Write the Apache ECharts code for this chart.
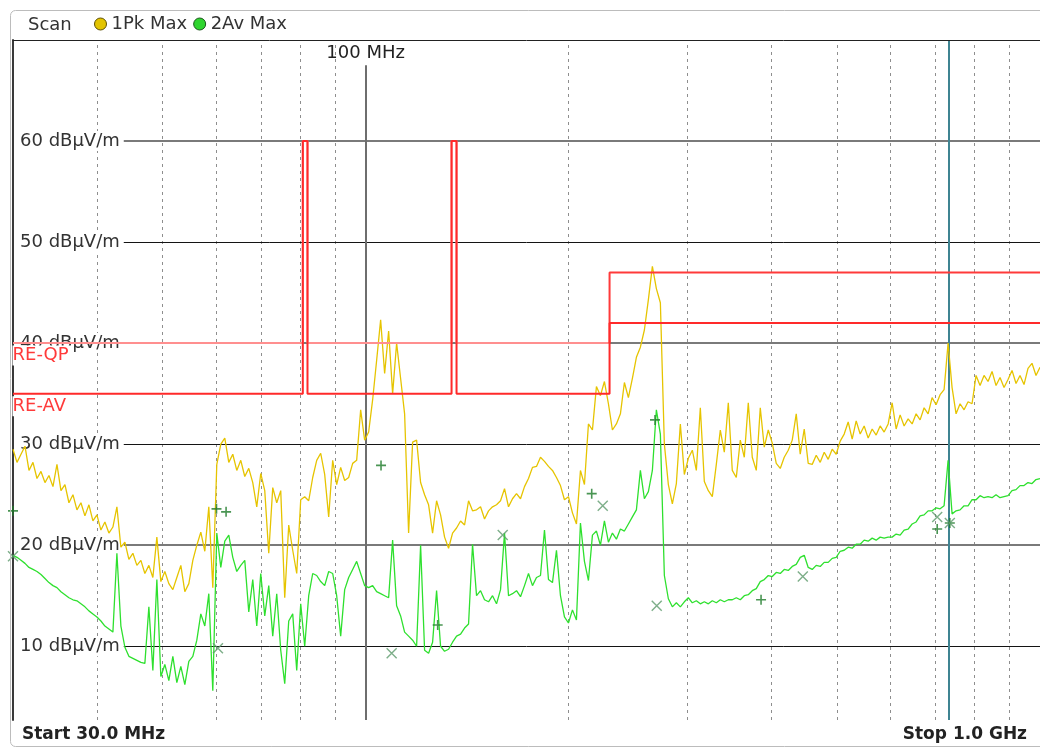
<!DOCTYPE html>
<html>
<head>
<meta charset="utf-8">
<title>Scan 30 MHz – 1 GHz</title>
<script src="https://cdn.jsdelivr.net/npm/echarts@6/dist/echarts.min.js"></script>
<style>
  html, body { margin: 0; padding: 0; background: #fff; }
  #chart { width: 1040px; height: 749px; }
</style>
</head>
<body>
<div id="chart"></div>
<script>
// Sweep range (MHz) and level range (dBµV/m)
const startMHz = 30;
const stopMHz = 1000;
const yMaxDb = 70;
const yMinDb = 2.7;

// Grid ticks
const gridDb = [10, 20, 30, 40, 50, 60];
const gridDashMHz = [40, 50, 60, 70, 80, 90, 200, 300, 400, 500, 600, 700, 800, 900];
const labelledMHz = 100;
const labelTopDb = 67.5;
const markerMHz = 733;

// Trace 1: peak detector, max hold (dBµV/m), one value per sweep point
const pkMax = [
  29.5, 28.2, 29.0, 29.8, 27.4, 28.2, 26.6, 27.3, 26.2, 26.9,
  25.8, 28.0, 25.4, 26.0, 24.2, 25.0, 23.5, 24.2, 22.9, 24.0,
  22.4, 23.0, 21.5, 22.3, 21.2, 21.8, 23.8, 19.8, 20.3, 18.6,
  19.2, 18.0, 18.5, 17.2, 18.0, 16.8, 20.8, 16.4, 17.4, 16.2,
  15.6, 16.8, 18.0, 15.4, 16.2, 18.5, 20.0, 21.3, 19.4, 23.8,
  15.8, 28.0, 30.0, 30.6, 28.2, 29.0, 27.4, 28.4, 26.8, 27.6,
  26.2, 23.8, 27.1, 25.4, 19.2, 25.7, 24.2, 25.4, 14.8, 22.0,
  19.5, 17.2, 24.5, 24.8, 24.4, 26.7, 28.4, 29.1, 27.0, 22.8,
  28.4, 26.0, 27.7, 26.4, 26.7, 28.1, 28.4, 33.4, 30.4, 31.2,
  34.4, 38.3, 42.3, 37.0, 41.2, 35.0, 40.0, 36.5, 33.0, 21.2,
  30.2, 30.4, 26.2, 25.0, 24.0, 21.2, 24.4, 23.0, 20.8, 19.7,
  21.2, 21.7, 22.4, 22.0, 24.4, 23.4, 23.5, 23.8, 22.6, 23.4,
  23.8, 24.0, 24.4, 25.6, 23.8, 24.6, 25.1, 24.6, 25.8, 26.6,
  27.7, 27.8, 28.7, 28.3, 27.8, 27.4, 26.7, 25.9, 24.5, 24.8,
  23.2, 22.1, 27.4, 26.0, 32.0, 31.4, 35.7, 34.8, 36.2, 34.0,
  31.4, 32.0, 33.0, 36.1, 34.6, 36.5, 38.6, 39.6, 41.3, 44.3,
  47.6, 45.4, 44.0, 30.0, 26.0, 24.1, 26.1, 32.0, 27.0, 28.6,
  29.4, 27.4, 33.6, 26.3, 25.4, 24.8, 28.0, 31.4, 29.2, 34.1,
  27.4, 26.7, 30.4, 28.7, 34.1, 28.7, 27.4, 33.6, 29.7, 31.4,
  30.1, 28.1, 27.6, 28.7, 29.4, 30.4, 33.0, 29.0, 31.5, 28.1,
  28.0, 28.9, 28.2, 29.2, 28.5, 29.5, 29.0, 30.3, 31.0, 32.2,
  30.5, 32.3, 31.0, 31.8, 30.6, 31.5, 30.9, 31.8, 31.2, 32.0,
  34.1, 31.5, 32.9, 31.8, 32.5, 32.0, 33.0, 32.4, 33.6, 33.0,
  34.6, 33.9, 34.9, 35.4, 40.0, 35.6, 33.0, 34.0, 33.4, 34.2,
  34.0, 36.8, 35.8, 36.8, 36.2, 37.2, 35.8, 36.6, 35.6, 36.4,
  37.3, 36.0, 36.8, 35.9, 37.5, 38.0, 36.8, 37.6
];

// Trace 2: average detector, max hold (dBµV/m)
const avMax = [
  19.0, 18.8, 18.5, 18.2, 17.8, 17.6, 17.4, 17.1, 16.7, 16.3,
  16.0, 15.8, 15.4, 15.1, 14.8, 14.6, 14.5, 14.2, 13.9, 13.5,
  13.2, 12.9, 12.5, 12.0, 11.7, 11.4, 19.2, 12.0, 9.9, 9.0,
  8.8, 8.6, 8.4, 8.3, 13.9, 7.6, 16.6, 7.0, 8.2, 6.6,
  9.0, 6.4, 8.0, 6.2, 8.5, 9.0, 10.6, 13.2, 12.0, 15.2,
  5.6, 21.2, 17.8, 20.4, 21.0, 18.8, 17.4, 18.0, 18.5, 13.4,
  16.6, 12.0, 17.2, 13.0, 16.0, 11.0, 15.2, 9.6, 6.3, 12.5,
  13.2, 7.6, 14.2, 10.0, 15.0, 17.2, 17.0, 16.4, 16.0, 17.4,
  17.2, 15.0, 11.0, 15.6, 16.8, 17.6, 18.4, 17.2, 16.0, 15.8,
  16.0, 15.4, 15.2, 15.0, 14.8, 20.5, 14.0, 13.0, 11.4, 11.0,
  10.6, 10.0, 20.0, 9.6, 9.3, 10.4, 15.5, 10.0, 9.5, 9.7,
  10.4, 11.0, 11.2, 11.8, 12.2, 20.1, 15.0, 15.5, 14.6, 14.4,
  15.0, 14.2, 15.6, 21.2, 15.0, 15.2, 15.5, 14.9, 16.0, 17.2,
  16.0, 16.8, 17.0, 21.5, 16.6, 16.3, 19.5, 15.0, 12.9, 12.3,
  13.6, 12.6, 22.2, 18.4, 16.5, 21.0, 21.4, 20.0, 22.4, 20.3,
  21.2, 20.6, 21.6, 21.4, 22.1, 22.8, 23.5, 27.4, 24.6, 25.3,
  27.4, 33.4, 31.0, 17.0, 14.7, 13.9, 14.3, 13.9, 14.4, 14.8,
  14.3, 14.5, 14.2, 14.4, 14.2, 14.5, 14.3, 14.6, 14.4, 14.6,
  14.6, 14.8, 14.6, 15.0, 15.1, 15.5, 15.7, 16.4, 16.6, 17.0,
  16.9, 17.3, 17.2, 17.6, 17.5, 17.9, 18.1, 18.8, 19.0, 17.8,
  17.6, 18.0, 17.9, 18.3, 18.3, 18.7, 18.8, 19.4, 19.5, 19.8,
  19.7, 20.1, 20.1, 20.5, 20.4, 20.7, 20.5, 20.8, 20.7, 20.8,
  20.8, 21.1, 21.0, 21.5, 21.6, 22.1, 22.3, 22.9, 23.0, 23.4,
  23.4, 23.7, 23.6, 23.9, 28.4, 23.1, 23.4, 23.5, 23.9, 23.9,
  24.5, 24.5, 24.9, 24.7, 24.8, 24.7, 25.0, 24.7, 24.8, 24.9,
  25.4, 25.5, 25.9, 25.9, 26.2, 26.1, 26.5, 26.6
];

// Limit lines (step corners)
const limitMHz = [30, 80.7, 80.7, 82.0, 82.0, 134.1, 134.1, 136.4, 136.4, 230, 230, 1000];
const qpLimitDb = [40, 40, 60, 60, 40, 40, 60, 60, 40, 40, 47, 47];
const avLimitDb = [35, 35, 60, 60, 35, 35, 60, 60, 35, 35, 42, 42];
const qpSplitIndex = 9; // QP limit drawn lighter below 230 MHz

// Final measurement results
const qpFinalMHz = [30, 60.1, 62.1, 105.4, 127.9, 216.4, 268.6, 385.8, 704, 735];
const qpFinalDb = [23.4, 23.6, 23.3, 27.9, 12.1, 25.1, 32.4, 14.6, 21.6, 22.2];
const avFinalMHz = [30, 60.4, 109.3, 159.7, 224.7, 270.2, 444.9, 704, 735];
const avFinalDb = [18.9, 9.8, 9.3, 21.0, 23.9, 14.0, 16.9, 22.8, 22.2];

// Log-spaced sweep frequencies
const sweepMHz = pkMax.map((_, i) => startMHz * Math.pow(stopMHz / startMHz, i / (pkMax.length - 1)));

const font = 'DejaVu Sans';
const zip = (xs, ys) => xs.map((x, i) => [x, ys[i]]);

const qpPairs = zip(limitMHz, qpLimitDb);
const avPairs = zip(limitMHz, avLimitDb);

const chart = echarts.init(document.getElementById('chart'), null, { renderer: 'canvas' });

chart.setOption({
  animation: false,
  backgroundColor: '#fff',
  textStyle: { fontFamily: font },
  graphic: [{
    type: 'rect',
    silent: true,
    z: 100,
    shape: { x: 10.5, y: 10.5, width: 1040, height: 736, r: 5 },
    style: { fill: 'none', stroke: '#bcbcbc', lineWidth: 1 }
  }],
  title: [
    { text: 'Scan', left: 28, top: 16, padding: 0,
      textStyle: { fontFamily: font, fontSize: 18, fontWeight: 'normal', color: '#333' } },
    { text: 'Start ' + startMHz.toFixed(1) + ' MHz', left: 22, top: 726, padding: 0,
      textStyle: { fontFamily: font, fontSize: 17, fontWeight: 'bold', color: '#222' } },
    { text: 'Stop ' + (stopMHz / 1000).toFixed(1) + ' GHz', right: 13, top: 726, padding: 0,
      textStyle: { fontFamily: font, fontSize: 17, fontWeight: 'bold', color: '#222' } }
  ],
  legend: {
    left: 94, top: 15, padding: 0,
    icon: 'circle', itemWidth: 12, itemHeight: 12, itemGap: 6,
    textStyle: { fontFamily: font, fontSize: 18, color: '#333' },
    data: [
      { name: '1Pk Max', itemStyle: { color: '#e3c400', borderColor: '#5e5000', borderWidth: 1 } },
      { name: '2Av Max', itemStyle: { color: '#2fd52f', borderColor: '#1b561b', borderWidth: 1 } }
    ]
  },
  grid: { left: 13, right: 0, top: 40, bottom: 29, containLabel: false },
  xAxis: {
    type: 'log', logBase: 10, min: startMHz, max: stopMHz,
    position: 'top', z: 1,
    axisLine: { show: true, lineStyle: { color: '#222', width: 1 } },
    axisTick: { show: false }, axisLabel: { show: false },
    splitLine: { show: false }, minorTick: { show: false }
  },
  yAxis: {
    type: 'value', min: yMinDb, max: yMaxDb, z: 1,
    axisLine: { show: true, lineStyle: { color: '#3a3a3a', width: 2 } },
    axisTick: { show: false },
    splitLine: { show: false },
    axisLabel: {
      inside: true, margin: 1,
      customValues: gridDb,
      formatter: v => v + ' dBµV/m',
      fontFamily: font, fontSize: 18, color: '#333',
      backgroundColor: '#fff', padding: [1, 4, 1, 6]
    }
  },
  series: [
    {
      // graticule
      type: 'line', name: 'graticule', data: [], z: 0, silent: true,
      markLine: {
        z: 0, silent: true, symbol: ['none', 'none'], animation: false,
        label: { show: false },
        data: [
          ...gridDashMHz.map(f => ({ xAxis: f, lineStyle: { color: '#8e8e8e', width: 1, type: [3, 4] } })),
          ...gridDb.map(v => ({
            yAxis: v,
            lineStyle: v % 20 === 0 ? { color: '#7a7a7a', width: 2, type: 'solid' } : { color: '#141414', width: 1, type: 'solid' }
          })),
          [
            { coord: [labelledMHz, yMinDb], lineStyle: { color: '#6e6e6e', width: 2, type: 'solid' } },
            { coord: [labelledMHz, labelTopDb],
              label: { show: true, position: 'end', distance: 3, formatter: labelledMHz + ' MHz',
                       fontFamily: font, fontSize: 18, color: '#222' } }
          ],
          { xAxis: markerMHz, lineStyle: { color: '#3f8492', width: 2, type: 'solid' } }
        ]
      }
    },
    {
      type: 'line', name: '1Pk Max', z: 2,
      data: zip(sweepMHz, pkMax),
      showSymbol: false, symbol: 'none', sampling: 'none',
      itemStyle: { color: '#e3c400' },
      lineStyle: { color: '#e6c400', width: 1.3 }
    },
    {
      type: 'line', name: '2Av Max', z: 2,
      data: zip(sweepMHz, avMax),
      showSymbol: false, symbol: 'none', sampling: 'none',
      itemStyle: { color: '#2fd52f' },
      lineStyle: { color: '#2ee02e', width: 1.3 }
    },
    {
      type: 'line', name: 'RE-QP', z: 3, silent: true,
      data: qpPairs.slice(0, qpSplitIndex + 1),
      showSymbol: false, symbol: 'none',
      lineStyle: { color: '#ff8f8f', width: 2 },
      markPoint: {
        z: 5, silent: true, symbol: 'rect', symbolSize: 1,
        itemStyle: { color: 'rgba(0,0,0,0)' },
        data: [{
          coord: qpPairs[0],
          label: { show: true, formatter: 'RE-QP', position: [0, 3], align: 'left', verticalAlign: 'top',
                   fontFamily: font, fontSize: 18, color: '#ff3a3a', backgroundColor: '#fff', padding: [1, 3, 1, 0] }
        }]
      }
    },
    {
      type: 'line', name: 'RE-QP above 230 MHz', z: 3, silent: true,
      data: qpPairs.slice(qpSplitIndex),
      showSymbol: false, symbol: 'none',
      lineStyle: { color: '#ff3a3a', width: 2 }
    },
    {
      type: 'line', name: 'RE-AV', z: 3, silent: true,
      data: avPairs,
      showSymbol: false, symbol: 'none',
      lineStyle: { color: '#ff2a2a', width: 2 },
      markPoint: {
        z: 5, silent: true, symbol: 'rect', symbolSize: 1,
        itemStyle: { color: 'rgba(0,0,0,0)' },
        data: [{
          coord: avPairs[0],
          label: { show: true, formatter: 'RE-AV', position: [0, 3], align: 'left', verticalAlign: 'top',
                   fontFamily: font, fontSize: 18, color: '#ff3a3a', backgroundColor: '#fff', padding: [1, 3, 1, 0] }
        }]
      }
    },
    {
      type: 'scatter', name: 'QP final', z: 4, silent: true,
      data: zip(qpFinalMHz, qpFinalDb),
      symbol: 'path://M5,0L5,10M0,5L10,5', symbolSize: 10,
      itemStyle: { color: 'rgba(0,0,0,0)', borderColor: '#1d7a28', borderWidth: 1.6 }
    },
    {
      type: 'scatter', name: 'AV final', z: 4, silent: true,
      data: zip(avFinalMHz, avFinalDb),
      symbol: 'path://M0,0L10,10M10,0L0,10', symbolSize: 10,
      itemStyle: { color: 'rgba(0,0,0,0)', borderColor: '#5d9a6b', borderWidth: 1.4 }
    }
  ]
});
</script>
</body>
</html>
